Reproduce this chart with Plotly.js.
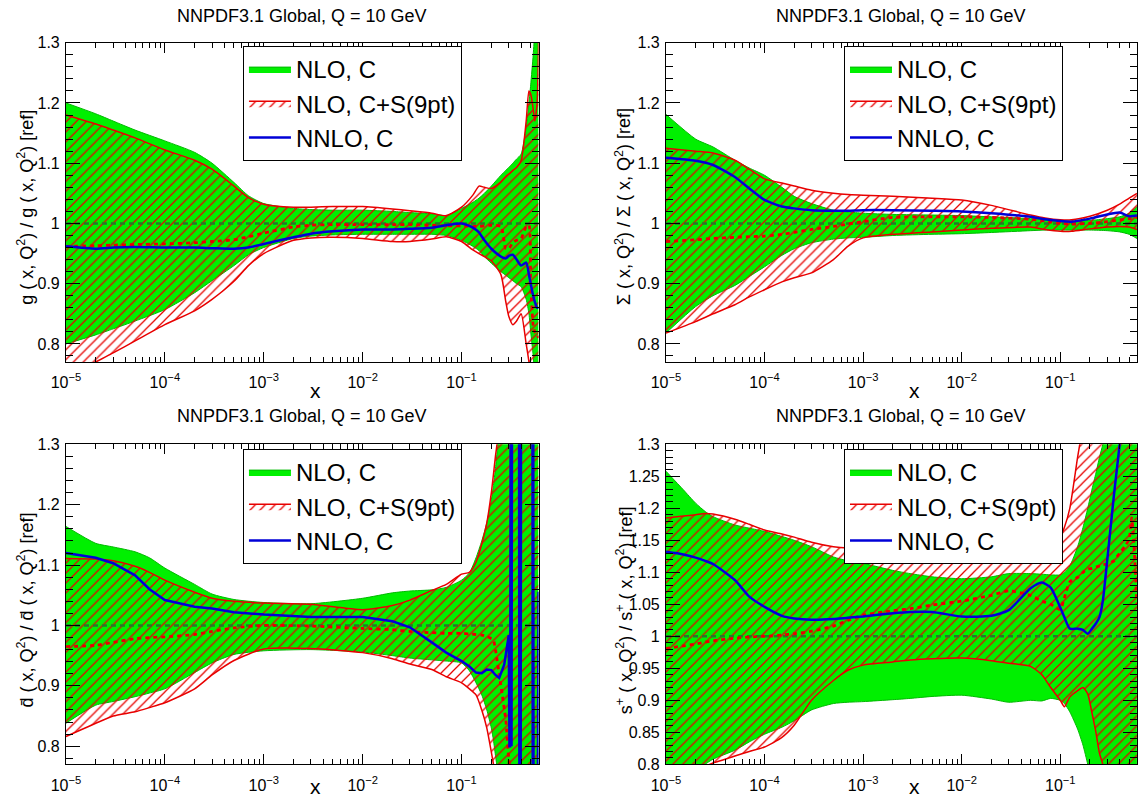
<!DOCTYPE html>
<html>
<head>
<meta charset="utf-8">
<script src="https://cdn.plot.ly/plotly-3.0.1.min.js"></script>
<style>
html,body{margin:0;padding:0;background:#fff;}
#chart{width:1139px;height:800px;}
</style>
</head>
<body>
<div id="chart"></div>
<script>
// ---------------- DATA ----------------
const seriesNames = ['NLO, C', 'NLO, C+S(9pt)', 'NNLO, C'];
const panelTitle = 'NNPDF3.1 Global, Q = 10 GeV';
const xTickVals = [1e-5, 1e-4, 1e-3, 1e-2, 1e-1];
const xTickText = ['10<sup>\u22125</sup>', '10<sup>\u22124</sup>', '10<sup>\u22123</sup>', '10<sup>\u22122</sup>', '10<sup>\u22121</sup>'];
const yTitles = [
  'g ( x, Q<sup>2</sup>) / g ( x, Q<sup>2</sup>) [ref]',
  '\u03a3 ( x, Q<sup>2</sup>) / \u03a3 ( x, Q<sup>2</sup>) [ref]',
  'd\u0304 ( x, Q<sup>2</sup>) / d\u0304 ( x, Q<sup>2</sup>) [ref]',
  's<sup>+</sup> ( x, Q<sup>2</sup>) / s<sup>+</sup> ( x, Q<sup>2</sup>) [ref]'
];
const nloCentral = [1, 1];

// gluon
const xG = [1e-5, 2e-5, 3e-5, 5e-5, 1e-4, 2e-4, 3e-4, 5e-4, 7e-4, 1e-3, 2e-3, 3e-3, 5e-3, 1e-2, 2e-2, 3e-2, 5e-2, 7e-2, 0.1, 0.13, 0.15, 0.17, 0.2, 0.25, 0.28, 0.3, 0.33, 0.36, 0.4, 0.45, 0.48, 0.5, 0.53, 0.55, 0.58, 0.6];
const gGreenUp = [1.200, 1.182, 1.170, 1.155, 1.137, 1.118, 1.100, 1.068, 1.046, 1.033, 1.025, 1.023, 1.022, 1.022, 1.020, 1.018, 1.016, 1.013, 1.025, 1.035, 1.042, 1.050, 1.062, 1.080, 1.088, 1.093, 1.100, 1.107, 1.115, 1.160, 1.200, 1.230, 1.280, 1.320, 1.400, 1.450];
const gGreenLo = [0.800, 0.815, 0.825, 0.838, 0.857, 0.885, 0.905, 0.930, 0.948, 0.960, 0.975, 0.979, 0.981, 0.982, 0.982, 0.982, 0.982, 0.980, 0.972, 0.962, 0.955, 0.945, 0.934, 0.920, 0.914, 0.910, 0.905, 0.900, 0.895, 0.874, 0.850, 0.820, 0.780, 0.740, 0.700, 0.680];
const gRedUp = [1.180, 1.165, 1.155, 1.142, 1.122, 1.105, 1.090, 1.062, 1.043, 1.032, 1.027, 1.027, 1.028, 1.028, 1.024, 1.021, 1.017, 1.013, 1.027, 1.047, 1.062, 1.060, 1.058, 1.069, 1.078, 1.082, 1.088, 1.093, 1.104, 1.170, 1.220, 1.215, 1.190, 1.170, 1.200, 1.300];
const gRedLo = [0.742, 0.770, 0.785, 0.805, 0.832, 0.855, 0.874, 0.904, 0.930, 0.950, 0.972, 0.976, 0.977, 0.975, 0.970, 0.970, 0.974, 0.978, 0.970, 0.956, 0.950, 0.945, 0.938, 0.915, 0.870, 0.846, 0.832, 0.838, 0.850, 0.800, 0.770, 0.740, 0.700, 0.680, 0.650, 0.640];
const gRedC = [0.962, 0.963, 0.964, 0.965, 0.966, 0.968, 0.970, 0.973, 0.978, 0.984, 0.994, 0.997, 0.998, 0.998, 0.998, 0.998, 0.997, 0.996, 0.996, 0.995, 0.995, 0.996, 0.997, 0.995, 0.958, 0.958, 0.968, 0.972, 0.975, 0.995, 0.997, 0.900, 0.830, 0.820, 0.815, 0.810];
const gBlue = [0.962, 0.958, 0.960, 0.961, 0.960, 0.960, 0.959, 0.958, 0.960, 0.966, 0.977, 0.983, 0.987, 0.990, 0.990, 0.991, 0.993, 0.997, 1.000, 0.993, 0.985, 0.972, 0.958, 0.945, 0.942, 0.946, 0.948, 0.940, 0.930, 0.935, 0.915, 0.900, 0.880, 0.870, 0.860, 0.860];

// singlet
const xS = [1e-5, 2e-5, 3e-5, 5e-5, 7e-5, 1e-4, 1.5e-4, 2e-4, 3e-4, 5e-4, 7e-4, 1e-3, 2e-3, 5e-3, 1e-2, 2e-2, 5e-2, 7e-2, 0.1, 0.13, 0.2, 0.3, 0.4, 0.5, 0.6];
const sGreenUp = [1.181, 1.140, 1.127, 1.105, 1.092, 1.080, 1.060, 1.045, 1.033, 1.022, 1.019, 1.017, 1.015, 1.014, 1.013, 1.011, 1.008, 1.006, 1.004, 1.004, 1.005, 1.008, 1.011, 1.017, 1.028];
const sGreenLo = [0.818, 0.862, 0.880, 0.897, 0.912, 0.928, 0.947, 0.958, 0.968, 0.974, 0.976, 0.977, 0.980, 0.982, 0.983, 0.985, 0.988, 0.989, 0.989, 0.989, 0.989, 0.988, 0.986, 0.982, 0.975];
const sRedUp = [1.125, 1.120, 1.117, 1.105, 1.090, 1.074, 1.067, 1.062, 1.055, 1.050, 1.048, 1.047, 1.045, 1.042, 1.039, 1.030, 1.014, 1.009, 1.006, 1.006, 1.012, 1.022, 1.032, 1.042, 1.050];
const sRedLo = [0.818, 0.837, 0.850, 0.865, 0.878, 0.890, 0.903, 0.910, 0.918, 0.940, 0.962, 0.976, 0.982, 0.986, 0.989, 0.992, 0.994, 0.990, 0.987, 0.987, 0.991, 0.994, 0.995, 0.994, 0.990];
const sRedC = [0.970, 0.973, 0.975, 0.977, 0.978, 0.979, 0.982, 0.985, 0.990, 0.995, 0.999, 1.003, 1.010, 1.011, 1.011, 1.010, 1.007, 1.004, 1.000, 0.999, 1.000, 1.003, 1.006, 1.008, 1.010];
const sBlue = [1.109, 1.104, 1.097, 1.077, 1.058, 1.039, 1.028, 1.025, 1.022, 1.021, 1.021, 1.022, 1.022, 1.021, 1.020, 1.017, 1.011, 1.007, 1.004, 1.003, 1.008, 1.015, 1.018, 1.012, 1.013];

// dbar
const xD = [1e-5, 2e-5, 3e-5, 5e-5, 7e-5, 1e-4, 2e-4, 3e-4, 5e-4, 1e-3, 3e-3, 1e-2, 2e-2, 3e-2, 5e-2, 7e-2, 0.1, 0.12, 0.14, 0.16, 0.18, 0.2, 0.21, 0.22, 0.25, 0.28, 0.3, 0.4, 0.5, 0.6];
const dGreenUp = [1.164, 1.136, 1.130, 1.122, 1.112, 1.095, 1.068, 1.052, 1.043, 1.038, 1.036, 1.045, 1.054, 1.057, 1.059, 1.063, 1.075, 1.087, 1.112, 1.140, 1.170, 1.208, 1.232, 1.260, 1.350, 1.420, 1.450, 1.500, 1.500, 1.500];
const dGreenLo = [0.838, 0.868, 0.874, 0.882, 0.888, 0.895, 0.922, 0.938, 0.952, 0.958, 0.960, 0.956, 0.950, 0.946, 0.943, 0.941, 0.938, 0.925, 0.905, 0.885, 0.860, 0.830, 0.810, 0.785, 0.720, 0.650, 0.600, 0.500, 0.500, 0.500];
const dRedUp = [1.111, 1.110, 1.107, 1.098, 1.088, 1.075, 1.055, 1.045, 1.040, 1.037, 1.035, 1.026, 1.033, 1.042, 1.058, 1.068, 1.085, 1.088, 1.105, 1.135, 1.170, 1.220, 1.250, 1.280, 1.350, 1.420, 1.450, 1.500, 1.500, 1.500];
const dRedLo = [0.816, 0.838, 0.850, 0.857, 0.864, 0.872, 0.895, 0.918, 0.942, 0.961, 0.962, 0.955, 0.945, 0.936, 0.927, 0.915, 0.905, 0.895, 0.885, 0.860, 0.830, 0.790, 0.770, 0.740, 0.680, 0.620, 0.600, 0.500, 0.500, 0.500];
const dRedC = [0.965, 0.967, 0.972, 0.978, 0.980, 0.981, 0.985, 0.990, 0.996, 1.000, 0.999, 0.995, 0.993, 0.990, 0.988, 0.987, 0.987, 0.986, 0.985, 0.984, 0.982, 0.978, 0.976, 0.960, 0.900, 0.843, 0.780, 0.600, 0.600, 0.600];
const xDBlue = [1e-5, 2e-5, 3e-5, 5e-5, 7e-5, 1e-4, 2e-4, 3e-4, 5e-4, 1e-3, 3e-3, 1e-2, 2e-2, 3e-2, 5e-2, 7e-2, 0.1, 0.12, 0.14, 0.16, 0.18, 0.2, 0.22, 0.24, 0.27, 0.3, 0.305, 0.31, 0.315, 0.32, 0.325, 0.38, 0.385, 0.39, 0.395, 0.4, 0.52, 0.525, 0.53, 0.535, 0.585, 0.59, 0.6];
const dBlue = [1.120, 1.112, 1.103, 1.083, 1.060, 1.042, 1.031, 1.028, 1.022, 1.018, 1.014, 1.014, 1.007, 0.997, 0.972, 0.955, 0.941, 0.932, 0.922, 0.921, 0.927, 0.926, 0.918, 0.913, 0.935, 0.984, 0.800, 0.800, 1.600, 0.800, 1.600, 1.600, 0.500, 1.600, 0.500, 1.600, 1.600, 0.500, 1.600, 0.500, 0.500, 0.816, 1.056];

// s+
const xP = [1e-5, 1.5e-5, 2e-5, 2.5e-5, 3e-5, 5e-5, 7e-5, 1e-4, 1.5e-4, 2e-4, 3e-4, 5e-4, 7e-4, 1e-3, 2e-3, 3e-3, 5e-3, 1e-2, 2e-2, 3e-2, 5e-2, 6.5e-2, 8e-2, 0.1, 0.11, 0.125, 0.15, 0.17, 0.19, 0.21, 0.23, 0.25, 0.27, 0.3, 0.35, 0.4, 0.45, 0.5, 0.53, 0.55, 0.57, 0.6];
const pGreenUp = [1.258, 1.229, 1.208, 1.195, 1.187, 1.174, 1.169, 1.164, 1.156, 1.150, 1.140, 1.124, 1.118, 1.114, 1.103, 1.098, 1.093, 1.090, 1.093, 1.098, 1.098, 1.097, 1.096, 1.096, 1.100, 1.110, 1.140, 1.170, 1.200, 1.230, 1.255, 1.280, 1.300, 1.350, 1.400, 1.450, 1.500, 1.500, 1.500, 1.500, 1.500, 1.500];
const pGreenLo = [0.760, 0.770, 0.785, 0.800, 0.808, 0.822, 0.835, 0.847, 0.858, 0.868, 0.885, 0.895, 0.897, 0.898, 0.901, 0.903, 0.906, 0.908, 0.902, 0.897, 0.900, 0.899, 0.903, 0.900, 0.895, 0.882, 0.855, 0.830, 0.800, 0.770, 0.740, 0.700, 0.680, 0.650, 0.600, 0.600, 0.600, 0.600, 0.600, 0.600, 0.600, 0.600];
const pRedUp = [1.185, 1.188, 1.190, 1.192, 1.191, 1.183, 1.175, 1.166, 1.160, 1.155, 1.147, 1.140, 1.138, 1.138, 1.139, 1.140, 1.140, 1.141, 1.142, 1.143, 1.145, 1.148, 1.150, 1.155, 1.170, 1.200, 1.280, 1.330, 1.380, 1.420, 1.450, 1.480, 1.500, 1.500, 1.500, 1.500, 1.500, 1.500, 1.500, 1.500, 1.500, 1.500];
const pRedLo = [0.700, 0.740, 0.770, 0.797, 0.802, 0.813, 0.820, 0.827, 0.842, 0.861, 0.900, 0.931, 0.947, 0.955, 0.960, 0.963, 0.965, 0.966, 0.962, 0.958, 0.953, 0.940, 0.920, 0.900, 0.890, 0.905, 0.915, 0.920, 0.910, 0.880, 0.850, 0.817, 0.800, 0.750, 0.700, 0.650, 0.600, 0.600, 0.600, 0.600, 0.600, 0.600];
const pRedC = [0.981, 0.985, 0.988, 0.991, 0.993, 0.997, 0.999, 1.000, 1.002, 1.004, 1.008, 1.016, 1.025, 1.033, 1.040, 1.043, 1.049, 1.055, 1.064, 1.071, 1.064, 1.055, 1.050, 1.042, 1.060, 1.085, 1.092, 1.100, 1.105, 1.106, 1.108, 1.110, 1.112, 1.113, 1.118, 1.130, 1.140, 1.152, 1.185, 1.160, 1.120, 1.050];
const pBlue = [1.132, 1.128, 1.123, 1.118, 1.113, 1.088, 1.062, 1.046, 1.032, 1.028, 1.026, 1.027, 1.029, 1.031, 1.036, 1.038, 1.038, 1.031, 1.032, 1.041, 1.075, 1.084, 1.076, 1.045, 1.030, 1.012, 1.012, 1.010, 1.004, 1.012, 1.020, 1.030, 1.055, 1.120, 1.220, 1.300, 1.400, 1.500, 1.550, 1.600, 1.650, 1.700];

// ---------------- STYLE ----------------
const FONT = 'Liberation Sans, Arial, Helvetica, sans-serif';
const GREEN_FILL = 'rgb(0,240,0)';
const GREEN_EDGE = 'rgb(0,185,0)';
const GREEN_DASH = 'rgb(40,120,40)';
const RED = 'rgb(232,0,0)';
const BLUE = 'rgb(0,0,215)';

const panels = [
  {x: xG, gUp: gGreenUp, gLo: gGreenLo, rUp: gRedUp, rLo: gRedLo, rC: gRedC, bx: xG, b: gBlue, bShape: 'spline', xa: 'x', ya: 'y', leg: 'legend'},
  {x: xS, gUp: sGreenUp, gLo: sGreenLo, rUp: sRedUp, rLo: sRedLo, rC: sRedC, bx: xS, b: sBlue, bShape: 'spline', xa: 'x2', ya: 'y2', leg: 'legend2'},
  {x: xD, gUp: dGreenUp, gLo: dGreenLo, rUp: dRedUp, rLo: dRedLo, rC: dRedC, bx: xDBlue, b: dBlue, bShape: 'linear', xa: 'x3', ya: 'y3', leg: 'legend3'},
  {x: xP, gUp: pGreenUp, gLo: pGreenLo, rUp: pRedUp, rLo: pRedLo, rC: pRedC, bx: xP, b: pBlue, bShape: 'spline', xa: 'x4', ya: 'y4', leg: 'legend4'}
];

const traces = [];
panels.forEach(p => {
  const base = {type: 'scatter', mode: 'lines', xaxis: p.xa, yaxis: p.ya, legend: p.leg, hoverinfo: 'skip'};
  const sp = {shape: 'spline', smoothing: 0.6};
  // green band
  traces.push(Object.assign({}, base, {x: p.x, y: p.gLo, showlegend: false,
    line: Object.assign({color: GREEN_EDGE, width: 1}, sp)}));
  traces.push(Object.assign({}, base, {x: p.x, y: p.gUp, name: seriesNames[0], showlegend: true,
    fill: 'tonexty', fillcolor: GREEN_FILL, line: Object.assign({color: GREEN_EDGE, width: 1}, sp)}));
  // red hatched band
  traces.push(Object.assign({}, base, {x: p.x, y: p.rLo, showlegend: false,
    line: Object.assign({color: RED, width: 1.5}, sp)}));
  traces.push(Object.assign({}, base, {x: p.x, y: p.rUp, name: seriesNames[1], showlegend: true,
    fill: 'tonexty', fillcolor: 'rgba(0,0,0,0)',
    fillpattern: {shape: '/', fgcolor: RED, bgcolor: 'rgba(0,0,0,0)', size: 7, solidity: 0.18},
    line: Object.assign({color: RED, width: 1.5}, sp)}));
  // central lines
  traces.push(Object.assign({}, base, {x: [p.x[0], p.x[p.x.length - 1]], y: nloCentral, showlegend: false,
    line: {color: GREEN_DASH, width: 2.5, dash: '5px,4px'}}));
  traces.push(Object.assign({}, base, {x: p.x, y: p.rC, showlegend: false,
    line: Object.assign({color: RED, width: 2.8, dash: '4px,4px'}, sp)}));
  traces.push(Object.assign({}, base, {x: p.bx, y: p.b, name: seriesNames[2], showlegend: true,
    line: p.bShape === 'spline' ? Object.assign({color: BLUE, width: 2.5}, sp) : {color: BLUE, width: 2.5, shape: 'linear'}}));
});

const xdomL = [0.0579, 0.4728], xdomR = [0.5847, 0.9982];
const ydomT = [0.5475, 0.9466], ydomB = [0.0446, 0.4446];
const tickFont = {family: FONT, size: 16, color: '#000'};

function xAxis(domain, anchor) {
  return {
    domain: domain, anchor: anchor, type: 'log', range: [-5, -0.222],
    tickmode: 'array', tickvals: xTickVals, ticktext: xTickText,
    ticks: 'inside', ticklen: 10, tickwidth: 1, tickcolor: '#000',
    minor: {dtick: 'D1', ticks: 'inside', ticklen: 5, tickwidth: 1, tickcolor: '#000', showgrid: false},
    showline: true, linecolor: '#000', linewidth: 1, mirror: 'allticks',
    showgrid: false, zeroline: false, tickfont: tickFont, ticklabelstandoff: 6,
    fixedrange: true
  };
}
function yAxis(domain, anchor, lo, dt, mdt) {
  return {
    domain: domain, anchor: anchor, range: [lo, 1.3],
    tickmode: 'linear', tick0: 0.8, dtick: dt,
    ticks: 'inside', ticklen: 14, tickwidth: 1, tickcolor: '#000',
    minor: {tick0: 0.8, dtick: mdt, ticks: 'inside', ticklen: 7, tickwidth: 1, tickcolor: '#000', showgrid: false},
    showline: true, linecolor: '#000', linewidth: 1, mirror: 'allticks',
    showgrid: false, zeroline: false, tickfont: tickFont, ticklabelstandoff: 2,
    fixedrange: true
  };
}
function legendBox(x, y) {
  return {x: x, y: y, xanchor: 'left', yanchor: 'top', xref: 'paper', yref: 'paper',
    bgcolor: '#fff', bordercolor: '#000', borderwidth: 1, traceorder: 'normal',
    entrywidth: 236, entrywidthmode: 'pixels',
    font: {family: FONT, size: 24, color: '#000'}, itemwidth: 42, tracegroupgap: 0, itemclick: false, itemdoubleclick: false};
}

const annotations = [];
const cxL = (xdomL[0] + xdomL[1]) / 2, cxR = (xdomR[0] + xdomR[1]) / 2;
[[cxL, 0.980], [cxR, 0.980], [cxL, 0.480], [cxR, 0.480]].forEach(([x, y]) => {
  annotations.push({text: panelTitle, x: x, y: y, xref: 'paper', yref: 'paper', xanchor: 'center', yanchor: 'middle',
    showarrow: false, font: {family: FONT, size: 18, color: '#000'}});
});
[[0.2774, 0.5125, 'middle'], [0.8033, 0.5125, 'middle'], [0.2774, 0.0, 'bottom'], [0.8033, 0.0, 'bottom']].forEach(([x, y, ya]) => {
  annotations.push({text: 'x', x: x, y: y, xref: 'paper', yref: 'paper', xanchor: 'center', yanchor: ya,
    showarrow: false, font: {family: FONT, size: 21, color: '#000'}});
});
[[0.0224, 0.741], [0.547, 0.741], [0.0224, 0.2375], [0.548, 0.2375]].forEach(([x, y], i) => {
  annotations.push({text: yTitles[i], x: x, y: y, xref: 'paper', yref: 'paper', xanchor: 'center', yanchor: 'middle',
    textangle: -90, showarrow: false, font: {family: FONT, size: 18, color: '#000'}});
});

const layout = {
  width: 1139, height: 800,
  margin: {l: 0, r: 0, t: 0, b: 0, pad: 0},
  paper_bgcolor: '#fff', plot_bgcolor: '#fff',
  font: {family: FONT, color: '#000'},
  showlegend: true,
  xaxis: xAxis(xdomL, 'y'), yaxis: yAxis(ydomT, 'x', 0.77, 0.1, 0.02),
  xaxis2: xAxis(xdomR, 'y2'), yaxis2: yAxis(ydomT, 'x2', 0.77, 0.1, 0.02),
  xaxis3: xAxis(xdomL, 'y3'), yaxis3: yAxis(ydomB, 'x3', 0.77, 0.1, 0.02),
  xaxis4: xAxis(xdomR, 'y4'), yaxis4: yAxis(ydomB, 'x4', 0.8, 0.05, 0.01),
  legend: legendBox(0.2133, 0.9425),
  legend2: legendBox(0.7410, 0.9425),
  legend3: legendBox(0.2133, 0.43875),
  legend4: legendBox(0.7410, 0.43875),
  annotations: annotations
};

Plotly.newPlot('chart', traces, layout, {displayModeBar: false, staticPlot: true});
</script>
</body>
</html>
